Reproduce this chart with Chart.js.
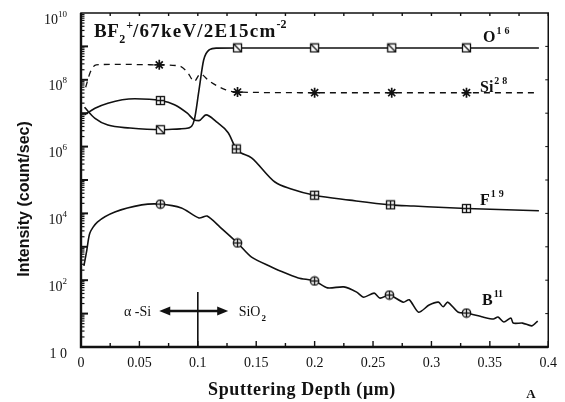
<!DOCTYPE html>
<html><head><meta charset="utf-8">
<script src="https://cdn.jsdelivr.net/npm/chart.js@4.4.1/dist/chart.umd.min.js"></script>
<style>html,body{margin:0;padding:0;background:#fff;}canvas{display:block}</style>
</head><body>
<canvas id="c" width="565" height="402"></canvas>
<script>
// ---- data (depth in µm, intensity in counts/sec) ----
const o16Depth = [0.003, 0.012, 0.023, 0.042, 0.068, 0.085, 0.092, 0.097, 0.101, 0.105, 0.110, 0.116, 0.134, 0.200, 0.266, 0.330, 0.392];
const o16Int   = [1.5e7, 7e6, 4.4e6, 3.6e6, 3.2e6, 3.4e6, 3.6e6, 6.3e6, 4.9e7, 3.9e8, 8.0e8, 8.9e8, 9e8, 9e8, 9e8, 9e8, 9e8];
const o16Marks = [4, 12, 13, 14, 15];

const si28Depth = [0.004, 0.008, 0.013, 0.030, 0.067, 0.084, 0.091, 0.097, 0.102, 0.110, 0.124, 0.134, 0.200, 0.266, 0.330, 0.392];
const si28Int   = [6e7, 1.7e8, 2.8e8, 2.9e8, 2.8e8, 2.6e8, 1.7e8, 9e7, 1.5e8, 9e7, 5e7, 4.3e7, 4.1e7, 4.1e7, 4.1e7, 4.1e7];
const si28Marks = [4, 11, 12, 13, 14];

const f19Depth = [0.003, 0.012, 0.023, 0.046, 0.068, 0.080, 0.091, 0.097, 0.101, 0.107, 0.116, 0.126, 0.133, 0.146, 0.166, 0.180, 0.200, 0.230, 0.265, 0.285, 0.330, 0.392];
const f19Int   = [8.9e6, 1.4e7, 2.0e7, 2.7e7, 2.4e7, 1.8e7, 1.0e7, 6.3e6, 6.0e6, 8.9e6, 5.5e6, 2.6e6, 8.5e5, 4.6e5, 8.7e4, 5.4e4, 3.5e4, 2.5e4, 1.8e4, 1.66e4, 1.4e4, 1.2e4];
const f19Marks = [4, 12, 16, 18, 20];

const b11Depth = [0.0025, 0.005, 0.0076, 0.014, 0.029, 0.052, 0.068, 0.086, 0.101, 0.108, 0.119, 0.134, 0.146, 0.163, 0.169, 0.186, 0.200, 0.211, 0.225, 0.236, 0.242, 0.251, 0.256, 0.264, 0.276, 0.281, 0.289, 0.298, 0.306, 0.310, 0.314, 0.323, 0.330, 0.344, 0.353, 0.357, 0.362, 0.368, 0.370, 0.378, 0.386, 0.391];
const b11Int   = [270, 800, 2600, 5500, 1.1e4, 1.8e4, 1.9e4, 1.45e4, 7300, 8300, 3900, 1300, 490, 250, 200, 117, 95, 59, 63, 44, 31, 41, 29, 36, 22, 26, 11, 18, 22, 16, 22, 11, 10.4, 7.9, 6.9, 7.9, 5.6, 7.4, 5.2, 5.2, 4.3, 6.0];
const b11Marks = [6, 11, 16, 23, 32];

const xTickValues = [0, 0.05, 0.1, 0.15, 0.2, 0.25, 0.3, 0.35, 0.4];
const xTickLabels = ['0', '0.05', '0.1', '0.15', '0.2', '0.25', '0.3', '0.35', '0.4'];
const yTickExps = [0, 2, 4, 6, 8, 10];
const yTickBase = ['1 0', '10', '10', '10', '10', '10'];
const yTickSup  = ['', '2', '4', '6', '8', '10'];

const titleText = 'BF';
const xTitle = 'Sputtering Depth (\u03bcm)';
const yTitle = 'Intensity (count/sec)';
const interfaceDepth = 0.1;

// ---- marker images ----
function marker(kind) {
  const c = document.createElement('canvas');
  c.width = 11; c.height = 11;
  const g = c.getContext('2d');
  g.strokeStyle = '#111'; g.fillStyle = '#fff'; g.lineWidth = 1.3;
  if (kind === 'circ') {
    g.beginPath(); g.arc(5.5, 5.5, 4.2, 0, Math.PI * 2); g.fill(); g.stroke();
    g.beginPath(); g.moveTo(5.5, 1.3); g.lineTo(5.5, 9.7); g.moveTo(1.3, 5.5); g.lineTo(9.7, 5.5); g.stroke();
  } else {
    g.fillRect(1.5, 1.5, 8, 8); g.strokeRect(1.5, 1.5, 8, 8);
    g.beginPath();
    if (kind === 'slash') { g.moveTo(2, 2); g.lineTo(9, 9); }
    else { g.moveTo(5.5, 1.5); g.lineTo(5.5, 9.5); g.moveTo(1.5, 5.5); g.lineTo(9.5, 5.5); }
    g.stroke();
  }
  return c;
}

function pts(xs, ys) { return xs.map((x, i) => ({ x: x, y: ys[i] })); }
function radiusFor(marks, r) { return ctx => marks.includes(ctx.dataIndex) ? r : 0; }

const base = { borderColor: '#111', fill: false, cubicInterpolationMode: 'monotone', pointBorderColor: '#111', pointBackgroundColor: '#fff', pointHoverRadius: 0 };

// ---- decoration plugin (frame, inward ticks, labels, annotations) ----
function rich(ctx, x, y, parts) {
  let cx = x;
  for (const p of parts) {
    ctx.font = p.f;
    if (p.ls) ctx.letterSpacing = p.ls + 'px'; else ctx.letterSpacing = '0px';
    ctx.fillText(p.t, cx, y + (p.dy || 0));
    cx += ctx.measureText(p.t).width + (p.gap || 0);
  }
  ctx.letterSpacing = '0px';
  return cx;
}

const deco = {
  id: 'deco',
  afterDraw(chart) {
    const ctx = chart.ctx, a = chart.chartArea, xs = chart.scales.x, ys = chart.scales.y;
    ctx.save();
    ctx.strokeStyle = '#111'; ctx.fillStyle = '#111';
    // frame
    ctx.lineWidth = 1.5;
    ctx.strokeRect(a.left, a.top, a.right - a.left, a.bottom - a.top);
    ctx.lineWidth = 2.4;
    ctx.beginPath(); ctx.moveTo(a.left, a.top); ctx.lineTo(a.left, a.bottom); ctx.lineTo(a.right, a.bottom); ctx.stroke();
    // x ticks (inward)
    ctx.lineWidth = 1.4;
    for (let i = 0; i <= 16; i++) {
      const v = i * 0.025, px = xs.getPixelForValue(v);
      const len = i % 2 === 0 ? 6 : 4;
      ctx.beginPath(); ctx.moveTo(px, a.bottom); ctx.lineTo(px, a.bottom - len); ctx.stroke();
      ctx.beginPath(); ctx.moveTo(px, a.top); ctx.lineTo(px, a.top + 3); ctx.stroke();
    }
    // y ticks (inward, log)
    for (let e = 0; e <= 9; e++) {
      for (let m = 1; m <= 9; m++) {
        const py = ys.getPixelForValue(m * Math.pow(10, e));
        const len = m === 1 ? 7 : 3.5;
        ctx.lineWidth = m === 1 ? 2 : 1.2;
        ctx.beginPath(); ctx.moveTo(a.left, py); ctx.lineTo(a.left + len, py); ctx.stroke();
        if (m === 1) { ctx.lineWidth = 1; ctx.beginPath(); ctx.moveTo(a.right, py); ctx.lineTo(a.right - 3, py); ctx.stroke(); }
      }
    }
    // y tick labels
    ctx.textBaseline = 'alphabetic';
    yTickExps.forEach((e, i) => {
      const py = ys.getPixelForValue(Math.pow(10, e));
      ctx.font = '14px "Liberation Serif"';
      const bw = ctx.measureText(yTickBase[i]).width;
      ctx.font = '9px "Liberation Serif"';
      const sw = yTickSup[i] ? ctx.measureText(yTickSup[i]).width : 0;
      const right = 67;
      const x0 = right - bw - sw;
      rich(ctx, x0, py + 10.5, [
        { t: yTickBase[i], f: '14px "Liberation Serif"' },
        { t: yTickSup[i], f: '9px "Liberation Serif"', dy: -7 }
      ]);
    });
    // axis titles
    ctx.textAlign = 'center';
    ctx.font = 'bold 18px "Liberation Serif"';
    ctx.letterSpacing = '0.6px';
    ctx.fillText(xTitle, 302, 395);
    ctx.letterSpacing = '0px';
    ctx.font = 'bold 13px "Liberation Serif"';
    ctx.fillText('A', 531, 398);
    ctx.save();
    ctx.translate(29, 199); ctx.rotate(-Math.PI / 2);
    ctx.font = 'bold 16px "Liberation Sans"';
    ctx.fillText(yTitle, 0, 0);
    ctx.restore();
    ctx.textAlign = 'left';
    // title
    const tf = 'bold 19px "Liberation Serif"', sf = 'bold 12px "Liberation Serif"';
    rich(ctx, 94, 37, [
      { t: titleText, f: tf, ls: 0.5 },
      { t: '2', f: sf, dy: 6, gap: 1 },
      { t: '+', f: sf, dy: -8, gap: 0 },
      { t: '/67keV/2E15cm', f: tf, ls: 1.2 },
      { t: '-2', f: sf, dy: -9 }
    ]);
    // series labels
    const lf = 'bold 16px "Liberation Serif"', lsf = 'bold 10px "Liberation Serif"';
    rich(ctx, 483, 42, [{ t: 'O', f: lf, gap: 1 }, { t: '1', f: lsf, dy: -8, gap: 3 }, { t: '6', f: lsf, dy: -8 }]);
    rich(ctx, 480, 92, [{ t: 'Si', f: lf, gap: 1 }, { t: '2', f: lsf, dy: -8, gap: 3 }, { t: '8', f: lsf, dy: -8 }]);
    rich(ctx, 480, 205, [{ t: 'F', f: lf, gap: 1 }, { t: '1', f: lsf, dy: -8, gap: 3 }, { t: '9', f: lsf, dy: -8 }]);
    rich(ctx, 482, 305, [{ t: 'B', f: lf, gap: 1 }, { t: '11', f: lsf, dy: -8 }]);
    // interface annotation
    const ix = xs.getPixelForValue(interfaceDepth);
    const ay = ys.getPixelForValue(12);
    ctx.lineWidth = 1.6;
    ctx.beginPath(); ctx.moveTo(ix, ys.getPixelForValue(44)); ctx.lineTo(ix, a.bottom); ctx.stroke();
    const l = xs.getPixelForValue(0.067), r = xs.getPixelForValue(0.126);
    ctx.lineWidth = 2.6;
    ctx.beginPath(); ctx.moveTo(l + 8, ay); ctx.lineTo(r - 8, ay); ctx.stroke();
    ctx.beginPath(); ctx.moveTo(l, ay); ctx.lineTo(l + 11, ay - 4.5); ctx.lineTo(l + 11, ay + 4.5); ctx.closePath(); ctx.fill();
    ctx.beginPath(); ctx.moveTo(r, ay); ctx.lineTo(r - 11, ay - 4.5); ctx.lineTo(r - 11, ay + 4.5); ctx.closePath(); ctx.fill();
    ctx.font = '14px "Liberation Serif"';
    ctx.textAlign = 'right';
    ctx.fillText('\u03b1 -Si', xs.getPixelForValue(0.06), ay + 5);
    ctx.textAlign = 'left';
    rich(ctx, xs.getPixelForValue(0.135), ay + 5, [{ t: 'SiO', f: '14px "Liberation Serif"', gap: 1 }, { t: '2', f: 'bold 9px "Liberation Serif"', dy: 5 }]);
    ctx.restore();
  }
};

new Chart(document.getElementById('c'), {
  type: 'line',
  data: {
    datasets: [
      Object.assign({}, base, { label: 'O16', data: pts(o16Depth, o16Int), borderWidth: 1.6, pointStyle: marker('slash'), pointRadius: radiusFor(o16Marks, 5) }),
      Object.assign({}, base, { label: 'Si28', data: pts(si28Depth, si28Int), borderWidth: 1.3, borderDash: [6, 5], pointStyle: 'star', pointRadius: radiusFor(si28Marks, 5), pointBorderWidth: 1.7 }),
      Object.assign({}, base, { label: 'F19', data: pts(f19Depth, f19Int), borderWidth: 1.6, pointStyle: marker('plus'), pointRadius: radiusFor(f19Marks, 5) }),
      Object.assign({}, base, { label: 'B11', data: pts(b11Depth, b11Int), borderWidth: 1.6, cubicInterpolationMode: 'default', tension: 0.25, pointStyle: marker('circ'), pointRadius: radiusFor(b11Marks, 5) })
    ]
  },
  options: {
    responsive: false, animation: false, devicePixelRatio: 1,
    layout: { padding: { top: 13, right: 12, left: 0, bottom: 0 } },
    plugins: { legend: { display: false }, tooltip: { enabled: false } },
    scales: {
      x: {
        type: 'linear', min: 0, max: 0.4,
        grid: { display: false, drawTicks: false }, border: { display: false },
        afterBuildTicks: s => { s.ticks = xTickValues.map(v => ({ value: v })); },
        ticks: { autoSkip: false, maxRotation: 0, padding: 8, color: '#111', font: { family: 'Liberation Serif', size: 14 }, callback: (v, i) => xTickLabels[i] },
        afterFit: s => { s.height = 55; }
      },
      y: {
        type: 'logarithmic', min: 1, max: 1e10,
        grid: { display: false, drawTicks: false }, border: { display: false },
        ticks: { display: false },
        afterFit: s => { s.width = 81; }
      }
    }
  },
  plugins: [deco]
});
</script>
</body></html>
